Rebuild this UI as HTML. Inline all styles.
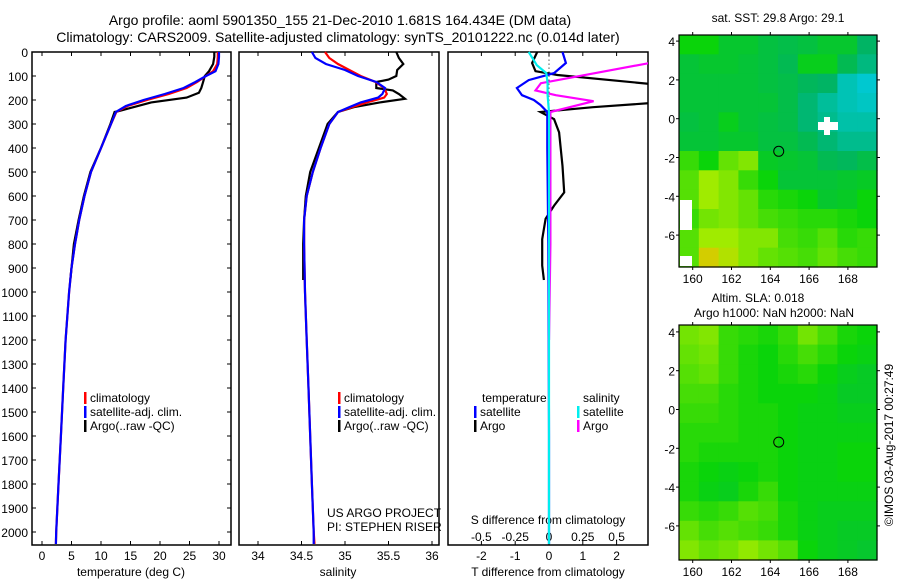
<!DOCTYPE html>
<html><head><meta charset="utf-8"><style>
html,body{margin:0;padding:0;background:#fff}
svg{display:block;font-family:"Liberation Sans",sans-serif}
</style></head><body>
<svg id="c" width="900" height="580" viewBox="0 0 900 580"></svg>
<script>
// ---- data ----
const tDepth=[0,20,50,80,100,125,150,175,200,225,250,300,400,500,600,700,800,900,1000,1200,1400,1600,1800,2000,2050];
const tClim=[29.8,29.8,29.7,29.0,27.8,26.3,24.5,21.5,17.8,14.5,12.6,11.7,10.0,8.3,7.2,6.3,5.6,5.0,4.6,4.0,3.6,3.2,2.8,2.4,2.35];
const tSat=[30.0,30.0,29.9,29.4,27.8,26.0,24.0,20.8,17.2,14.2,12.5,11.7,10.0,8.3,7.2,6.3,5.6,5.0,4.6,4.0,3.6,3.2,2.8,2.4,2.35];
const tArgoDepth=[0,20,50,80,100,125,150,170,190,210,230,245,250,300,400,500,600,700,800,950];
const tArgo=[29.2,29.2,29.0,28.3,27.6,27.3,27.0,26.6,24.5,18.5,15.5,13.2,12.3,11.6,10.0,8.2,7.1,6.2,5.4,4.8];
const sDepth=[0,25,50,75,100,125,150,175,190,210,230,250,300,400,500,600,700,800,1000,1200,1400,1600,1800,2000,2050];
const sClim=[34.77,34.82,34.92,35.05,35.18,35.35,35.45,35.48,35.45,35.25,35.08,34.92,34.82,34.72,34.63,34.56,34.53,34.53,34.54,34.56,34.58,34.60,34.62,34.64,34.65];
const sSat=[34.62,34.66,34.78,35.00,35.15,35.36,35.46,35.43,35.38,35.18,35.05,34.92,34.82,34.72,34.63,34.56,34.53,34.53,34.54,34.56,34.58,34.60,34.62,34.64,34.64];
const sArgoDepth=[0,25,50,75,100,115,125,150,160,175,195,210,230,250,300,400,500,600,700,800,950];
const sArgo=[35.59,35.62,35.67,35.60,35.59,35.50,35.36,35.36,35.55,35.62,35.69,35.40,35.10,34.92,34.80,34.70,34.60,34.55,34.53,34.52,34.52];
const dtSatDepth=[0,46,88,117,150,180,200,221,250,400,800,1200,1600,2050];
const dtSat=[0.4,0.5,0.15,-0.6,-0.95,-0.8,-0.45,-0.25,-0.05,-0.05,-0.02,-0.01,0,0];
const dtArgoDepth=[0,46,80,96,140,175,208,230,250,280,335,475,585,640,695,780,890,950];
const dtArgo=[-0.35,-0.5,-0.4,0.25,3.5,3.5,3.5,1.3,-0.25,0.15,0.3,0.4,0.45,0.15,-0.1,-0.2,-0.2,-0.15];
const dsSatDepth=[0,55,88,130,180,250,600,1200,2050];
const dsSat=[-0.15,-0.09,-0.02,-0.01,-0.01,0,0,0,0];
const dsArgoDepth=[40,130,160,180,205,250,400,800,1200];
const dsArgo=[0.8,-0.06,-0.1,0.05,0.33,0.01,0.01,0.01,0.0];
const depthTicks=[0,100,200,300,400,500,600,700,800,900,1000,1100,1200,1300,1400,1500,1600,1700,1800,1900,2000];
const tTicks=[0,5,10,15,20,25,30];
const sTicks=[34,34.5,35,35.5,36];
const dtTicks=[-2,-1,0,1,2];
const dsTicks=[-0.5,-0.25,0,0.25,0.5];
const dsTickLabels=["-0.5","-0.25","0","0.25","0.5"];
const latTicks=[4,2,0,-2,-4,-6];
const lonTicks=[160,162,164,166,168];
const sstGrid=[
[2,2,1.6,1.6,1.4,1.3,1.4,1.6,1.6,1.0],
[1.5,1.6,1.6,1.5,1.4,1.2,1.8,1.8,1.2,0.8],
[1.5,1.5,1.5,1.5,1.4,1.3,1.1,1.0,0.4,0.2],
[1.5,1.5,1.5,1.5,1.5,1.3,0.9,0.6,0.4,0.3],
[1.4,1.5,1.8,1.5,1.4,1.3,0.9,0.7,0.5,0.5],
[1.5,1.5,1.6,1.6,1.4,1.4,1.2,0.9,0.7,0.7],
[2.3,2.0,2.6,2.8,1.7,1.6,1.5,1.2,1.1,1.3],
[2.5,3.0,2.8,2.3,2.0,1.5,1.5,1.5,1.6,1.7],
[2.5,3.0,2.8,2.6,2.2,2.1,2.0,1.6,1.7,2.0],
[2.3,2.7,2.8,2.6,2.4,2.3,2.2,2.2,2.1,2.0],
[2.5,3.0,3.0,2.8,2.8,2.4,2.3,2.5,2.2,2.3],
[2.5,3.6,3.2,2.8,2.6,2.5,2.4,2.6,2.4,2.3]];
const slaGrid=[
[2.7,2.8,2.3,2.2,2.1,2.3,2.7,2.4,2.1,2.0],
[2.6,2.7,2.3,2.1,2.0,2.2,2.4,2.2,2.0,1.9],
[2.5,2.6,2.3,2.1,2.0,2.1,2.2,2.0,1.8,1.7],
[2.4,2.4,2.2,2.1,2.0,2.0,2.0,1.9,1.7,1.7],
[2.3,2.3,2.2,2.1,2.1,2.0,1.9,1.9,1.8,1.8],
[2.2,2.2,2.2,2.1,2.1,2.0,1.9,1.9,1.9,1.9],
[2.2,2.1,2.1,2.1,2.1,2.0,1.9,1.9,2.0,2.0],
[2.1,2.0,1.9,2.0,2.1,2.0,1.9,1.9,2.0,2.0],
[2.1,1.9,1.8,2.1,2.3,2.0,1.9,1.9,1.9,1.9],
[2.3,2.2,2.3,2.5,2.4,2.1,1.9,1.8,1.8,1.8],
[2.6,2.4,2.5,2.4,2.3,2.1,1.9,1.8,1.7,1.7],
[2.8,2.6,2.7,2.9,2.7,2.5,2.0,1.8,1.7,1.6]];
const argoLon=164.434, argoLat=-1.681;

// ---- helpers ----
const svg=document.getElementById('c');
const NS='http://www.w3.org/2000/svg';
function mk(tag,at,parent){const e=document.createElementNS(NS,tag);for(const k in at)e.setAttribute(k,at[k]);(parent||svg).appendChild(e);return e;}
function txt(x,y,s,anchor,size,parent){const e=mk('text',{x:x,y:y,'text-anchor':anchor||'start','font-size':size||12,fill:'#000'},parent);e.textContent=s;return e;}
const Y0=52, PY=0.24, YB=545;
const yD=d=>Y0+d*PY;
const xT=t=>42+t*5.9;
const xS=s=>258+(s-34)*87;
const xDT=d=>549+d*33.8;
const xDS=d=>549+d*135.2;
const panels=[[32,231],[239,439],[448,648]];

const defs=mk('defs',{});
panels.forEach((p,i)=>{const cp=mk('clipPath',{id:'cp'+i},defs);mk('rect',{x:p[0],y:Y0-1,width:p[1]-p[0],height:YB-Y0+1},cp);});

function line(xs,ds,xf,color,w,clip,name){
  let d='';xs.forEach((v,i)=>{d+=(i?'L':'M')+xf(v).toFixed(1)+','+yD(ds[i]).toFixed(1);});
  const p=mk('path',{d:d,fill:'none',stroke:color,'stroke-width':w,'clip-path':'url(#'+clip+')'});
  
  
  return p;
}

let t1=txt(340,25,'Argo profile: aoml 5901350_155 21-Dec-2010 1.681S 164.434E (DM data)','middle',14);


let t2=txt(338,42,'Climatology: CARS2009. Satellite-adjusted climatology: synTS_20101222.nc (0.014d later)','middle',14);



panels.forEach((p,i)=>{
  const r=mk('rect',{x:p[0],y:Y0,width:p[1]-p[0],height:YB-Y0,fill:'none',stroke:'#000','stroke-width':1.5});
  
  
});
depthTicks.forEach(d=>{
  const l=txt(28,yD(d)+5,String(d),'end',12);
  
  
  mk('line',{x1:32,x2:36,y1:yD(d),y2:yD(d),stroke:'#000'});
  mk('line',{x1:227,x2:231,y1:yD(d),y2:yD(d),stroke:'#000'});
});
function xticks(ticks,labels,xf,p,ly){
  ticks.forEach((v,i)=>{
    const x=xf(v);
    mk('line',{x1:x,x2:x,y1:YB,y2:YB-4,stroke:'#000'});
    mk('line',{x1:x,x2:x,y1:Y0,y2:Y0+4,stroke:'#000'});
    if(labels){const l=txt(x,ly,labels[i],'middle',12);
      
      }
  });
}
xticks(tTicks,tTicks.map(String),xT,panels[0],560);
xticks(sTicks,sTicks.map(String),xS,panels[1],560);
xticks(dtTicks,dtTicks.map(String),xDT,panels[2],560);
dsTicks.forEach((v,i)=>{const l=txt(xDS(v),541,dsTickLabels[i],'middle',12);
  
  });
let a1=txt(131,576,'temperature (deg C)','middle',12);
let a2=txt(338,576,'salinity','middle',12);
let a3=txt(548,576,'T difference from climatology','middle',12);
let a4=txt(548,524,'S difference from climatology','middle',12);

line(tArgo,tArgoDepth,xT,'#000',2.2,'cp0','temp-argo-line');
line(tClim,tDepth,xT,'#f00',2.2,'cp0','temp-climatology-line');
line(tSat,tDepth,xT,'#00f',2.2,'cp0','temp-satellite-line');
line(sArgo,sArgoDepth,xS,'#000',2.2,'cp1','sal-argo-line');
line(sClim,sDepth,xS,'#f00',2.2,'cp1','sal-climatology-line');
line(sSat,sDepth,xS,'#00f',2.2,'cp1','sal-satellite-line');
mk('line',{x1:549,x2:549,y1:yD(15),y2:yD(240),stroke:'#000','stroke-dasharray':'1,3'});
line(dtArgo,dtArgoDepth,xDT,'#000',2.2,'cp2','t-diff-argo-line');
line(dtSat,dtSatDepth,xDT,'#00f',2.2,'cp2','t-diff-satellite-line');
line(dsArgo,dsArgoDepth,xDS,'#f0f',2.2,'cp2','s-diff-argo-line');
line(dsSat,dsSatDepth,xDS,'#0ee',2.2,'cp2','s-diff-satellite-line');

function leg(x,y,color,label,name){
  const g=mk('g',{});
  
  
  mk('rect',{x:x,y:y-10,width:2.5,height:12,fill:color},g);
  txt(x+6,y,label,'start',12,g);
}
leg(84,402,'#f00','climatology','legend-climatology');
leg(84,416,'#00f','satellite-adj. clim.','legend-satellite-adj');
leg(84,430,'#000','Argo(..raw -QC)','legend-argo');
leg(338,402,'#f00','climatology','legend-climatology-2');
leg(338,416,'#00f','satellite-adj. clim.','legend-satellite-adj-2');
leg(338,430,'#000','Argo(..raw -QC)','legend-argo-2');
let lt=txt(482,402,'temperature','start',12);
let ls=txt(583,402,'salinity','start',12);
leg(474,416,'#00f','satellite','legend-t-satellite');
leg(474,430,'#000','Argo','legend-t-argo');
leg(577,416,'#0ee','satellite','legend-s-satellite');
leg(577,430,'#f0f','Argo','legend-s-argo');
let c1=txt(327,517,'US ARGO PROJECT','start',12);
let c2=txt(327,531,'PI: STEPHEN RISER','start',12);

const stops=[[0,205,235],[0,180,100],[10,212,10],[160,235,0],[245,185,0]];
function col(v){v=Math.max(0,Math.min(4,v));const i=Math.min(3,Math.floor(v)),f=v-i;const a=stops[i],b=stops[i+1];
  return 'rgb('+a.map((c,k)=>Math.round(c+(b[k]-c)*f)).join(',')+')';}
function drawMap(grid,top,bottom,lat0y,name){
  const L=679,R=877,lonX=lo=>692.7+(lo-160)*19.4,latY=la=>lat0y-la*19.4;
  const g=mk('g',{});
  
  
  const rows=grid.length,cols=grid[0].length,cw=(R-L)/cols,ch=(bottom-top)/rows;
  grid.forEach((row,r)=>row.forEach((v,c)=>{
    const cell=mk('rect',{x:(L+c*cw).toFixed(1),y:(top+r*ch).toFixed(1),width:(cw+0.6).toFixed(1),height:(ch+0.6).toFixed(1),fill:col(v)},g);
    
    
  }));
  mk('rect',{x:L,y:top,width:R-L,height:bottom-top,fill:'none',stroke:'#000','stroke-width':1.2},g);
  latTicks.forEach(la=>{const y=latY(la);
    mk('line',{x1:L,x2:L-3,y1:y,y2:y,stroke:'#000'},g);mk('line',{x1:R,x2:R+3,y1:y,y2:y,stroke:'#000'},g);
    txt(675,y+5,String(la),'end',12,g);});
  lonTicks.forEach(lo=>{const x=lonX(lo);
    mk('line',{x1:x,x2:x,y1:top,y2:top-3,stroke:'#000'},g);mk('line',{x1:x,x2:x,y1:bottom,y2:bottom+3,stroke:'#000'},g);
    txt(x,bottom+16,String(lo),'middle',12,g);});
  const m=mk('circle',{cx:lonX(argoLon),cy:latY(argoLat),r:5,fill:'none',stroke:'#000','stroke-width':1},g);
  
  
  return {g,lonX,latY};
}
const m1=drawMap(sstGrid,35,267,118.7,'sst-map');
mk('rect',{x:818,y:122,width:20,height:8,fill:'#fff'},m1.g);
mk('rect',{x:824,y:117,width:6,height:18,fill:'#fff'},m1.g);
mk('rect',{x:680,y:200,width:12,height:30,fill:'#fff'},m1.g);
mk('rect',{x:680,y:256,width:12,height:10,fill:'#fff'},m1.g);
let mt1=txt(778,22,'sat. SST: 29.8 Argo: 29.1','middle',12);
drawMap(slaGrid,325,560,409.5,'sla-map');
let mt2=txt(758,302,'Altim. SLA: 0.018','middle',12);
let mt3=txt(774,317,'Argo h1000: NaN h2000: NaN','middle',12);
let cr=txt(0,0,'©IMOS 03-Aug-2017 00:27:49','middle',12);
cr.setAttribute('transform','translate(893,445) rotate(-90)');


</script>
</body></html>
